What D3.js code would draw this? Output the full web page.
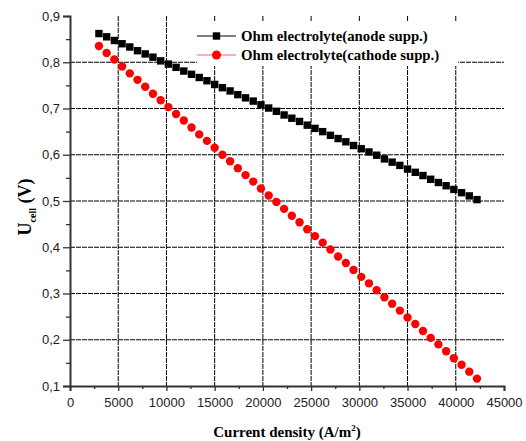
<!DOCTYPE html>
<html>
<head>
<meta charset="utf-8">
<script src="https://cdn.jsdelivr.net/npm/d3@7"></script>
<style>
  body { margin: 0; background: #fff; }
  svg { display: block; }
</style>
</head>
<body>
<div id="chart"></div>
<script>
// current density (A/m2), same for both series
const currentDensity = [3000, 3800, 4600, 5400, 6200, 7000, 7800, 8600, 9400, 10200,
  11000, 11800, 12600, 13400, 14200, 15000, 15800, 16600, 17400, 18200,
  19000, 19800, 20600, 21400, 22200, 23000, 23800, 24600, 25400, 26200,
  27000, 27800, 28600, 29400, 30200, 31000, 31800, 32600, 33400, 34200,
  35000, 35800, 36600, 37400, 38200, 39000, 39800, 40600, 41400, 42200];

const anodeSupp = [0.862, 0.855, 0.847, 0.840, 0.833, 0.825, 0.818, 0.811, 0.803, 0.796,
  0.789, 0.781, 0.774, 0.767, 0.760, 0.752, 0.745, 0.738, 0.730, 0.723,
  0.716, 0.708, 0.701, 0.694, 0.686, 0.679, 0.672, 0.664, 0.657, 0.650,
  0.642, 0.635, 0.628, 0.620, 0.613, 0.606, 0.599, 0.591, 0.584, 0.577,
  0.569, 0.562, 0.555, 0.547, 0.540, 0.533, 0.525, 0.518, 0.511, 0.503];

const cathodeSupp = [0.835, 0.820, 0.806, 0.791, 0.776, 0.762, 0.747, 0.732, 0.718, 0.703,
  0.688, 0.674, 0.659, 0.644, 0.630, 0.615, 0.600, 0.586, 0.571, 0.556,
  0.542, 0.527, 0.512, 0.498, 0.483, 0.468, 0.454, 0.439, 0.424, 0.410,
  0.395, 0.380, 0.366, 0.351, 0.336, 0.322, 0.307, 0.292, 0.278, 0.263,
  0.248, 0.234, 0.219, 0.204, 0.190, 0.175, 0.160, 0.146, 0.131, 0.116];

const seriesNames = ["Ohm electrolyte(anode supp.)", "Ohm electrolyte(cathode supp.)"];
const xTicks = [0, 5000, 10000, 15000, 20000, 25000, 30000, 35000, 40000, 45000];
const yTicks = [0.1, 0.2, 0.3, 0.4, 0.5, 0.6, 0.7, 0.8, 0.9];

const W = 526, H = 441;
const margin = { top: 16, right: 22, bottom: 55, left: 70 };

const svg = d3.select("#chart").append("svg")
  .attr("width", W).attr("height", H)
  .style("background", "#fff");

const x = d3.scaleLinear().domain([0, 45000]).range([margin.left, W - margin.right]);
const y = d3.scaleLinear().domain([0.1, 0.9]).range([H - margin.bottom, margin.top]);

const tickFont = "'Liberation Sans', Arial, sans-serif";
const titleFont = "'Liberation Serif', 'Times New Roman', serif";

// grid lines
const grid = svg.append("g").attr("stroke", "#000").attr("stroke-width", 1)
  .attr("stroke-dasharray", "5,1");
grid.selectAll(".gx").data(xTicks.filter(d => d > 0 && d < 45000)).join("line")
  .attr("x1", d => x(d)).attr("x2", d => x(d))
  .attr("y1", y(0.9)).attr("y2", y(0.1));
grid.selectAll(".gy").data(yTicks.filter(d => d > 0.15 && d < 0.85)).join("line")
  .attr("y1", d => y(d)).attr("y2", d => y(d))
  .attr("x1", x(0)).attr("x2", x(45000));

// legend background hides the grid behind it
const legend = svg.append("g");
legend.append("rect")
  .attr("x", 197).attr("y", 22).attr("width", 261).attr("height", 44)
  .attr("fill", "#fff");

// axes
const fmt = d => d3.format(".1f")(d).replace(".", ",");

svg.append("g").attr("transform", `translate(${margin.left},0)`)
  .call(d3.axisLeft(y).tickValues(yTicks).tickFormat(fmt).tickSize(7).tickPadding(3));
svg.append("g").attr("transform", `translate(${margin.left},0)`)
  .call(d3.axisLeft(y).tickValues(d3.range(0.15, 0.9, 0.1)).tickFormat("").tickSize(4))
  .select(".domain").remove();

svg.append("g").attr("transform", `translate(0,${H - margin.bottom})`)
  .call(d3.axisBottom(x).tickValues(xTicks).tickFormat(d3.format("d")).tickSize(5).tickPadding(7));
svg.append("g").attr("transform", `translate(0,${H - margin.bottom})`)
  .call(d3.axisBottom(x).tickValues(d3.range(2500, 45000, 5000)).tickFormat("").tickSize(3))
  .select(".domain").remove();

svg.selectAll(".domain").attr("stroke", "#333").attr("stroke-width", 2);
svg.selectAll(".tick line").attr("stroke", "#333").attr("stroke-width", 1.3);
svg.selectAll(".tick text")
  .attr("font-family", tickFont).attr("font-size", 13).attr("fill", "#222");

// data
svg.append("g").selectAll("rect").data(currentDensity).join("rect")
  .attr("x", d => x(d) - 3.7).attr("y", (d, i) => y(anodeSupp[i]) - 3.7)
  .attr("width", 7.4).attr("height", 7.4).attr("fill", "#000");

svg.append("g").selectAll("circle").data(currentDensity).join("circle")
  .attr("cx", d => x(d)).attr("cy", (d, i) => y(cathodeSupp[i]))
  .attr("r", 4.2).attr("fill", "#ff0000");

// legend entries
const rows = [
  { name: seriesNames[0], y: 36, line: "#000", mark: "square" },
  { name: seriesNames[1], y: 55, line: "#ff6060", mark: "circle" }
];
rows.forEach(r => {
  legend.append("line").attr("x1", 197).attr("x2", 236)
    .attr("y1", r.y).attr("y2", r.y).attr("stroke", r.line).attr("stroke-width", 1.2);
  if (r.mark === "square") {
    legend.append("rect").attr("x", 216.5 - 3.7).attr("y", r.y - 3.7)
      .attr("width", 7.4).attr("height", 7.4).attr("fill", "#000");
  } else {
    legend.append("circle").attr("cx", 216.5).attr("cy", r.y).attr("r", 4.5).attr("fill", "#ff0000");
  }
  legend.append("text").attr("x", 241).attr("y", r.y + 5)
    .attr("font-family", titleFont).attr("font-weight", "bold").attr("font-size", 14.8)
    .attr("fill", "#000").text(r.name);
});

// axis titles
const xt = svg.append("text")
  .attr("x", (x(0) + x(45000)) / 2).attr("y", 437)
  .attr("text-anchor", "middle")
  .attr("font-family", titleFont).attr("font-weight", "bold").attr("font-size", 15);
xt.append("tspan").text("Current density (A/m");
xt.append("tspan").attr("font-size", 9).attr("dy", -6).text("2");
xt.append("tspan").attr("dy", 6).text(")");

const yt = svg.append("text")
  .attr("transform", `translate(31,207) rotate(-90)`)
  .attr("text-anchor", "middle")
  .attr("font-family", titleFont).attr("font-weight", "bold").attr("font-size", 18);
yt.append("tspan").text("U");
yt.append("tspan").attr("font-size", 10).attr("dy", 5).text("cell");
yt.append("tspan").attr("dy", -5).text(" (V)");
</script>
</body>
</html>
